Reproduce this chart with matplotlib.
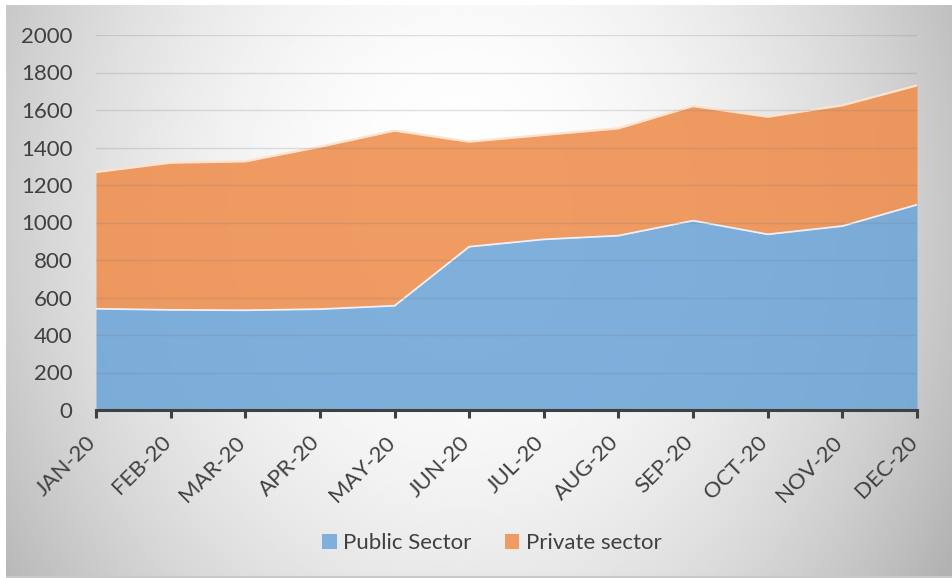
import numpy as np
import matplotlib
matplotlib.use("Agg")
import matplotlib.pyplot as plt
from matplotlib.transforms import ScaledTranslation

# monthly headcount, stacked: public at the bottom, private on top
months = ["JAN-20", "FEB-20", "MAR-20", "APR-20", "MAY-20", "JUN-20",
          "JUL-20", "AUG-20", "SEP-20", "OCT-20", "NOV-20", "DEC-20"]
public_sector = [540, 534, 532, 538, 556, 871, 910, 930, 1010, 937, 981, 1095]
private_sector = [729, 785, 794, 866, 934, 560, 557, 572, 611, 627, 644, 636]

plt.rcParams["font.family"] = ["Lato", "DejaVu Sans"]
TXT = "#404040"
FS = 16

fig = plt.figure(figsize=(9.53, 5.78), dpi=100)
fig.patch.set_facecolor("white")

# soft radial backdrop for the chart area
bg = fig.add_axes([6 / 953, 0, 947 / 953, 573 / 578], zorder=0)
gx, gy = np.meshgrid(np.linspace(0, 1, 400), np.linspace(0, 1, 250))
r = np.sqrt(((gx - 0.48) / 0.55) ** 2 + ((gy - 0.35) / 1.1) ** 2)
shade = 1.0 - 0.25 * np.clip(r, 0, 1.1) ** 2
bg.imshow(shade, cmap="gray", vmin=0, vmax=1, aspect="auto",
          extent=[0, 1, 1, 0], interpolation="bilinear")
bg.set_xlim(0, 1)
bg.set_ylim(1, 0)
bg.axis("off")
bg.plot([0, 1], [0.001, 0.001], color="#c8c8c8", lw=1.5, transform=bg.transAxes)

ax = fig.add_axes([96 / 953, 1 - 410 / 578, 821 / 953, 375 / 578], zorder=1)
ax.patch.set_alpha(0)

x = np.arange(len(months))
total = np.array(public_sector) + np.array(private_sector)

ax.fill_between(x, 0, public_sector, color="#71a7d8", alpha=0.9, lw=0, zorder=1)
ax.fill_between(x, public_sector, total, color="#ee9051", alpha=0.9, lw=0, zorder=1)
ax.plot(x, public_sector, color="#e8f1fa", lw=1.3, zorder=2)
ax.plot(x, total, color="#fde2cc", lw=1.6, zorder=2)

ax.set_xlim(0, len(months) - 1)
ax.set_ylim(0, 2000)
ax.set_yticks(np.arange(0, 2001, 200))
ax.grid(axis="y", color="#7a7a7a", alpha=0.22, lw=1)
ax.set_axisbelow(False)

for s in ["left", "right", "top"]:
    ax.spines[s].set_visible(False)
ax.spines["bottom"].set_color("#404040")
ax.spines["bottom"].set_linewidth(2.2)
ax.spines["bottom"].set_zorder(3)

ax.tick_params(axis="y", length=0, pad=17, labelsize=FS, labelcolor=TXT)
ax.tick_params(axis="x", length=6, width=2.2, color="#404040", pad=15,
               labelsize=FS, labelcolor=TXT)
ax.set_xticks(x)
ax.set_xticklabels(months, rotation=45, ha="right", va="center",
                   rotation_mode="anchor")
shift = ScaledTranslation(-3 / 100, 0, fig.dpi_scale_trans)
for lab in ax.get_xticklabels():
    lab.set_transform(lab.get_transform() + shift)

handles = [plt.Rectangle((0, 0), 1, 1, fc="#7fb0dc", ec="none"),
           plt.Rectangle((0, 0), 1, 1, fc="#f09b62", ec="none")]
fig.legend(handles, ["Public Sector", "Private sector"], loc="center",
           bbox_to_anchor=(492 / 953, 1 - 543 / 578), ncol=2, frameon=False,
           fontsize=FS, labelcolor=TXT, handlelength=0.65, handleheight=0.65,
           handletextpad=0.3, columnspacing=1.5)

fig.savefig("out.png", dpi=100)
